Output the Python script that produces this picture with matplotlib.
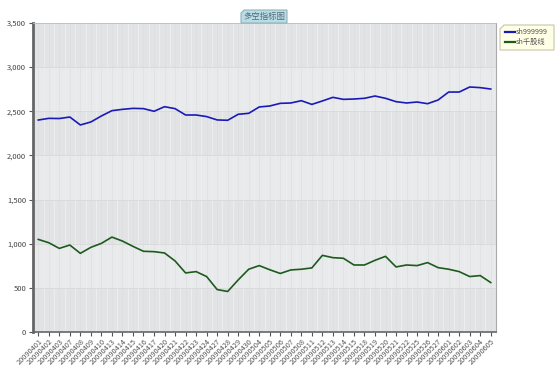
import numpy as np
import matplotlib.pyplot as plt
from matplotlib.patches import Polygon

plt.rcParams['font.family'] = ['Noto Sans CJK SC', 'DejaVu Sans']

# trading days
dates = ['20090401', '20090402', '20090403', '20090407', '20090408', '20090409',
         '20090410', '20090413', '20090414', '20090415', '20090416', '20090417',
         '20090420', '20090421', '20090422', '20090423', '20090424', '20090427',
         '20090428', '20090429', '20090430', '20090504', '20090505', '20090506',
         '20090507', '20090508', '20090511', '20090512', '20090513', '20090514',
         '20090515', '20090518', '20090519', '20090520', '20090521', '20090522',
         '20090525', '20090526', '20090527', '20090601', '20090602', '20090603',
         '20090604', '20090605']

# sh999999 index
sh_index = [2401, 2420, 2418, 2435, 2345, 2379, 2447, 2507, 2522, 2533, 2530,
            2500, 2552, 2530, 2458, 2458, 2440, 2402, 2398, 2466, 2477, 2549,
            2560, 2590, 2594, 2620, 2578, 2617, 2658, 2635, 2639, 2647, 2673,
            2647, 2609, 2594, 2605, 2586, 2628, 2718, 2718, 2775, 2768, 2752]

# sh千股线
sh_line = [1049, 1011, 947, 985, 891, 959, 1004, 1075, 1030, 970, 914, 910,
           895, 805, 669, 684, 628, 481, 459, 590, 711, 752, 705, 663, 703,
           711, 726, 868, 842, 835, 759, 759, 812, 857, 737, 759, 752, 786,
           729, 711, 684, 628, 639, 560]

fig = plt.figure(figsize=(5.6, 3.84), dpi=100)
ax = fig.add_axes([33/560, 1-332/384, (496-33)/560, (332-23)/384])

x = np.arange(len(dates))

# background bands
ax.set_facecolor('#e9eaec')
for lo in range(0, 3500, 1000):
    ax.axhspan(lo, lo + 500, color='#e2e3e5', zorder=0, lw=0)
for xi in x:
    ax.axvline(xi + 0.5, color='#eeeef0', lw=0.7, zorder=0.5)
    ax.axvline(xi, color='#dcdddf', lw=0.4, zorder=0.5)
for yv in range(500, 3500, 500):
    ax.axhline(yv, color='#d8d9db', lw=0.6, zorder=0.6)

ax.plot(x, sh_index, color='#1a1ab8', lw=1.2, label='sh999999', zorder=3)
ax.plot(x, sh_line, color='#1d5a1d', lw=1.2, label='sh千股线', zorder=3)

ax.set_xlim(-0.5, len(dates) - 0.5)
ax.set_ylim(0, 3500)
ax.set_yticks(range(0, 3501, 500))
ax.set_yticklabels([f'{v:,}' for v in range(0, 3501, 500)], fontsize=5.5, color='#444444')
ax.set_xticks(x)
ax.set_xticklabels(dates, rotation=45, ha='right', rotation_mode='anchor',
                   fontsize=5.3, color='#555555')
ax.tick_params(axis='x', length=3, width=0.8, color='#555555', pad=1)
ax.tick_params(axis='y', length=3, width=0.8, color='#555555', pad=2)

ax.spines['left'].set_color('#666666')
ax.spines['left'].set_linewidth(2)
ax.spines['bottom'].set_color('#666666')
ax.spines['bottom'].set_linewidth(1.2)
ax.spines['top'].set_color('#bbbbbb')
ax.spines['top'].set_linewidth(0.6)
ax.spines['right'].set_color('#aaaaaa')
ax.spines['right'].set_linewidth(0.8)

# title tab
W, H = 560, 384
def fpts(pts):
    return [(px / W, 1 - py / H) for px, py in pts]

tab = Polygon(fpts([(241, 23), (241, 13), (244, 10), (287, 10), (287, 23)]),
              closed=True, transform=fig.transFigure, facecolor='#b9dde5',
              edgecolor='#8fb3bd', lw=0.8, zorder=5)
fig.patches.append(tab)
fig.text(264/W, 1 - 16.5/H, '多空指标图', fontsize=6, color='#556677',
         ha='center', va='center', zorder=7)

# legend box
leg = Polygon(fpts([(500, 50), (500, 29), (504, 25), (554, 25), (554, 50)]),
              closed=True, transform=fig.transFigure, facecolor='#ffffe6',
              edgecolor='#c8c4a8', lw=0.8, zorder=5)
fig.patches.append(leg)
for i, (lab, col) in enumerate([('sh999999', '#1a1ab8'), ('sh千股线', '#1d5a1d')]):
    yy = 1 - (32 + i * 10) / H
    fig.lines.append(plt.Line2D([505/W, 515/W], [yy, yy], color=col, lw=1.6,
                                transform=fig.transFigure, zorder=7))
    fig.text(516/W, yy, lab, fontsize=5.2, color='#555555', va='center', zorder=7)

plt.savefig('out.png', dpi=100)
